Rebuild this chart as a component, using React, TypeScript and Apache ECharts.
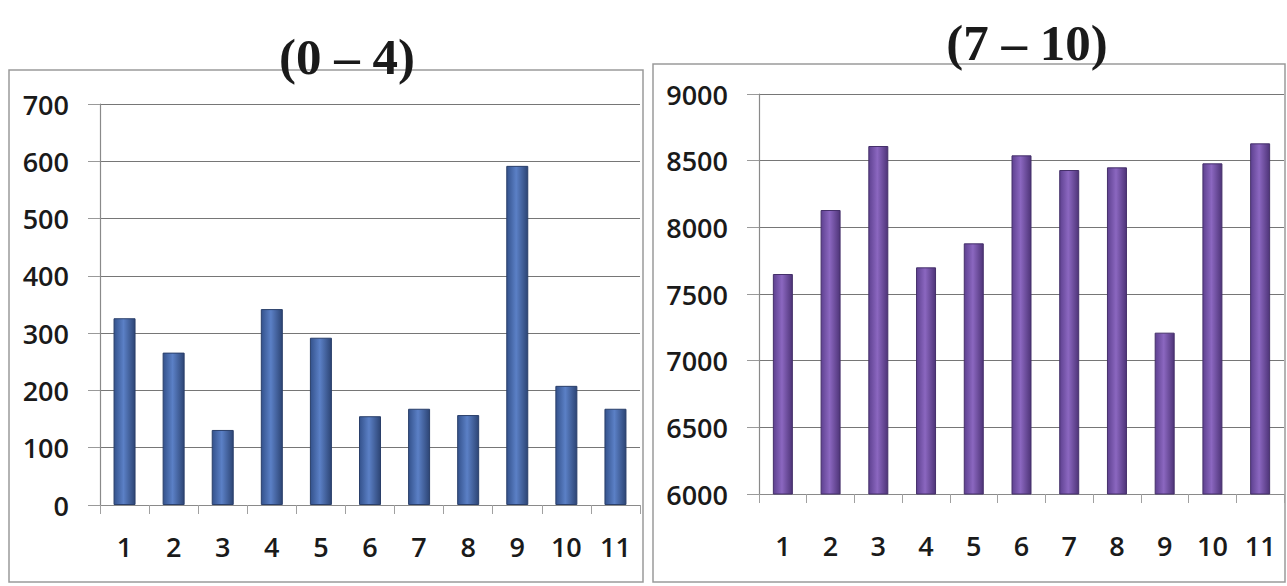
import { useEffect, useRef } from "react";
import * as echarts from "echarts";

const categories = ["1", "2", "3", "4", "5", "6", "7", "8", "9", "10", "11"];
const valuesAge0to4 = [326, 266, 131, 342, 292, 155, 168, 157, 592, 208, 168];
const valuesAge7to10 = [7650, 8130, 8610, 7700, 7880, 8540, 8430, 8450, 7210, 8480, 8630];
const titleLeft = "(0 – 4)";
const titleRight = "(7 – 10)";
const leftAxis = { min: 0, max: 700, interval: 100 };
const rightAxis = { min: 6000, max: 9000, interval: 500 };

export default function App() {
  const ref = useRef<HTMLDivElement>(null);
  useEffect(() => {
    const chart = echarts.init(ref.current!, null, { renderer: "svg" });
    const labelFont = {
      fontFamily: "Open Sans",
      fontSize: 27,
      fontWeight: 600,
      color: "#1a1a1a",
    };
    const blue = new echarts.graphic.LinearGradient(0, 0, 1, 0, [
      { offset: 0, color: "#34528c" },
      { offset: 0.45, color: "#5b80c6" },
      { offset: 1, color: "#2d4575" },
    ]);
    const purple = new echarts.graphic.LinearGradient(0, 0, 1, 0, [
      { offset: 0, color: "#5e4190" },
      { offset: 0.45, color: "#8b67c0" },
      { offset: 1, color: "#4e3478" },
    ]);
    const yAxisCommon = {
      type: "value",
      axisLine: { show: true, lineStyle: { color: "#8a8a8a", width: 1.2 } },
      axisTick: { show: true, length: 12, lineStyle: { color: "#9a9a9a" } },
      splitLine: { show: true, lineStyle: { color: "#767676", width: 1.2 } },
      axisLabel: { ...labelFont, margin: 31, formatter: (v: number) => String(v) },
    };
    const xAxisCommon = {
      type: "category",
      data: categories,
      axisLine: { show: true, lineStyle: { color: "#8a8a8a", width: 1.2 } },
      axisTick: { show: true, length: 9, lineStyle: { color: "#a0a0a0" } },
    };
    const titleStyle = {
      fontFamily: "Liberation Serif",
      fontWeight: "bold",
      fontSize: 51,
      color: "#1a1a1a",
    };
    chart.setOption({
      animation: false,
      backgroundColor: "#ffffff",
      title: [
        { text: titleLeft, left: 342, top: 26, textAlign: "center", textStyle: titleStyle },
        { text: titleRight, left: 1022, top: 12, textAlign: "center", textStyle: titleStyle },
      ],
      graphic: [
        {
          type: "rect",
          z: -1,
          shape: { x: 9, y: 70, width: 634, height: 512 },
          style: { fill: "none", stroke: "#9a9a9a", lineWidth: 1.5 },
        },
        {
          type: "rect",
          z: -1,
          shape: { x: 653, y: 64, width: 632, height: 518 },
          style: { fill: "none", stroke: "#9a9a9a", lineWidth: 1.5 },
        },
      ],
      grid: [
        { left: 100, right: 647, top: 104, bottom: 81 },
        { left: 759, right: 3, top: 94, bottom: 92 },
      ],
      xAxis: [
        { ...xAxisCommon, gridIndex: 0, axisLabel: { ...labelFont, margin: 28, interval: 0 } },
        { ...xAxisCommon, gridIndex: 1, axisLabel: { ...labelFont, margin: 38, interval: 0 } },
      ],
      yAxis: [
        { ...yAxisCommon, gridIndex: 0, ...leftAxis },
        { ...yAxisCommon, gridIndex: 1, ...rightAxis },
      ],
      series: [
        {
          type: "bar",
          xAxisIndex: 0,
          yAxisIndex: 0,
          data: valuesAge0to4,
          barWidth: 22,
          itemStyle: { color: blue, borderColor: "#2a3f6a", borderWidth: 1 },
        },
        {
          type: "bar",
          xAxisIndex: 1,
          yAxisIndex: 1,
          data: valuesAge7to10,
          barWidth: 20,
          itemStyle: { color: purple, borderColor: "#45306a", borderWidth: 1 },
        },
      ],
    });
    return () => chart.dispose();
  }, []);
  return (
    <div
      ref={ref}
      style={{ position: "fixed", left: 0, top: 0, width: 1287, height: 586, background: "#fff" }}
    />
  );
}
